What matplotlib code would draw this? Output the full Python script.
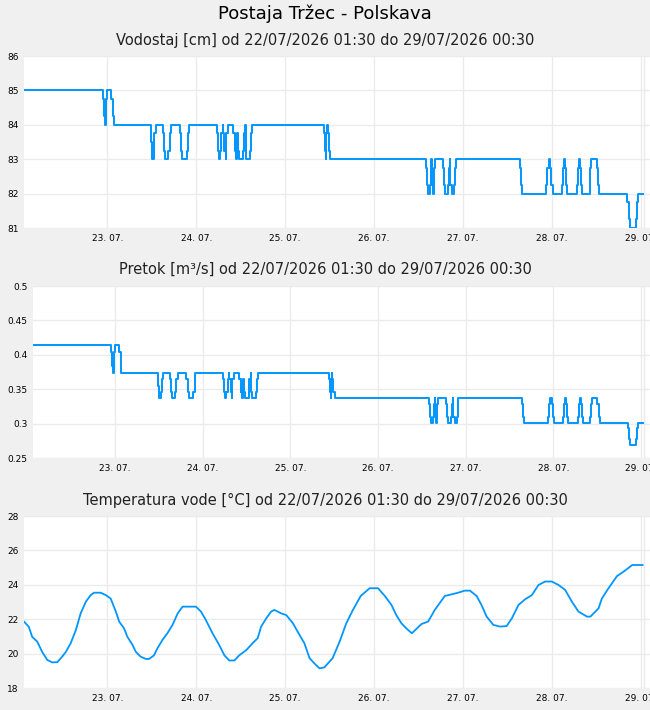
import datetime as dt
import matplotlib
matplotlib.use("Agg")
import matplotlib.pyplot as plt
import matplotlib.dates as mdates
from matplotlib.ticker import FuncFormatter, MultipleLocator

start = dt.datetime(2026, 7, 22, 1, 30)

# water level / flow: hours from start at which the value changes
step_h = [0, 21.4, 21.7, 22.0, 22.15, 22.4, 23.6, 24.0, 24.2,
          34.25, 34.5, 34.97, 35.2, 35.6, 37.4, 37.8, 38.0, 39.0, 39.3, 39.7,
          42.0, 42.4, 42.6, 43.9, 44.3, 44.5,
          52.0, 52.3, 52.55, 53.0, 53.3, 53.65, 53.8, 54.1, 54.45, 54.6, 55.1,
          56.5, 56.9, 57.1, 57.25, 57.4, 57.8, 57.95, 59.05, 59.3, 59.6, 59.8, 60.05,
          61.05, 61.3, 61.6,
          81.0, 81.3, 81.5, 81.6, 81.9, 82.0, 82.3, 82.6,
          108.5, 108.8, 109.1, 109.6, 109.9, 110.0, 110.1, 110.4, 110.6, 111.0,
          113.2, 113.4, 113.6, 114.5, 114.8, 115.0, 115.1, 115.5, 116.05, 116.3, 116.5,
          133.9, 134.15, 134.5,
          141.0, 141.3, 141.6, 142.1, 142.4, 142.7,
          145.2, 145.5, 145.7, 146.1, 146.35, 146.5,
          149.3, 149.5, 149.8, 150.2, 150.4, 150.7,
          152.7, 152.9, 153.2, 154.6, 154.9, 155.2,
          162.9, 163.3, 163.6, 165.1, 165.4, 165.7, 167.0]

vodostaj = [85, 84.75, 84.25, 84, 84.75, 85, 84.75, 84.25, 84,
            83.5, 83, 83.25, 83.75, 84, 83.75, 83.25, 83, 83.25, 83.75, 84,
            83.75, 83.25, 83, 83.25, 83.75, 84,
            83.75, 83.25, 83, 83.25, 83.75, 84, 83.75, 83.25, 83, 83.75, 84,
            83.75, 83.25, 83.5, 83, 83.75, 83.25, 83, 83.25, 83.75, 84, 83.25, 83,
            83.25, 83.75, 84,
            83.75, 83.25, 83, 83.75, 84, 83.75, 83.25, 83,
            82.75, 82.25, 82, 82.25, 82.75, 83, 82.25, 82, 82.75, 83,
            82.75, 82.25, 82, 82.25, 82.75, 83, 82.25, 82, 82.25, 82.75, 83,
            82.75, 82.25, 82,
            82.25, 82.75, 83, 82.75, 82.25, 82,
            82.25, 82.75, 83, 82.75, 82.25, 82,
            82.25, 82.75, 83, 82.75, 82.25, 82,
            82.25, 82.75, 83, 82.75, 82.25, 82,
            81.75, 81.25, 81, 81.25, 81.75, 82, 82]

pretok = [0.414, 0.404, 0.384, 0.374, 0.404, 0.414, 0.404, 0.384, 0.374,
          0.355, 0.337, 0.346, 0.365, 0.374, 0.365, 0.346, 0.337, 0.346, 0.365, 0.374,
          0.365, 0.346, 0.337, 0.346, 0.365, 0.374,
          0.365, 0.346, 0.337, 0.346, 0.365, 0.374, 0.365, 0.346, 0.337, 0.365, 0.374,
          0.365, 0.346, 0.355, 0.337, 0.365, 0.346, 0.337, 0.346, 0.365, 0.374, 0.346, 0.337,
          0.346, 0.365, 0.374,
          0.365, 0.346, 0.337, 0.365, 0.374, 0.365, 0.346, 0.337,
          0.328, 0.310, 0.301, 0.310, 0.328, 0.337, 0.310, 0.301, 0.328, 0.337,
          0.328, 0.310, 0.301, 0.310, 0.328, 0.337, 0.310, 0.301, 0.310, 0.328, 0.337,
          0.328, 0.310, 0.301,
          0.310, 0.328, 0.337, 0.328, 0.310, 0.301,
          0.310, 0.328, 0.337, 0.328, 0.310, 0.301,
          0.310, 0.328, 0.337, 0.328, 0.310, 0.301,
          0.310, 0.328, 0.337, 0.328, 0.310, 0.301,
          0.293, 0.277, 0.269, 0.277, 0.293, 0.301, 0.301]

# water temperature
temp_h = [0, 1.3, 2.2, 3.6, 4.9, 6.3, 7.6, 9.0, 10.3, 11.3, 12.6, 14.0, 15.3, 16.7,
          18.0, 18.9, 20.7, 22.1, 23.4, 24.8, 25.7, 27.0, 27.9, 29.3, 30.2, 31.5,
          32.9, 33.8, 35.1, 36.0, 37.4, 38.7, 40.1, 41.5, 42.8, 46.4, 47.8, 49.1,
          50.9, 52.7, 54.1, 55.4, 56.8, 58.1, 60.0, 61.7, 63.1, 64.0, 65.4, 66.7,
          67.6, 69.4, 70.8, 72.6, 74.4, 75.7, 77.1, 78.4, 79.8, 81.1, 83.3, 85.2,
          87.0, 88.8, 90.9, 93.3, 95.6, 97.4, 99.2, 100.5, 101.9, 103.2, 104.7,
          107.3, 109.1, 110.9, 113.6, 115.9, 117.2, 119.0, 120.4, 122.2, 123.5,
          124.9, 126.7, 128.5, 130.3, 131.7, 133.5, 135.3, 137.1, 138.9, 140.7,
          142.5, 144.3, 146.1, 147.9, 149.7, 152.0, 152.9, 155.1, 156.0, 157.8,
          160.1, 161.9, 164.2, 167.0]
temp = [21.86, 21.56, 20.98, 20.69, 20.1, 19.63, 19.49, 19.5, 19.82, 20.1, 20.6,
        21.37, 22.34, 23.02, 23.4, 23.54, 23.54, 23.4, 23.2, 22.44, 21.86, 21.47,
        20.98, 20.5, 20.1, 19.82, 19.69, 19.69, 19.9, 20.3, 20.8, 21.18, 21.67,
        22.34, 22.73, 22.73, 22.44, 21.95, 21.18, 20.5, 19.9, 19.6, 19.6, 19.9,
        20.2, 20.6, 20.9, 21.56, 22.05, 22.44, 22.54, 22.34, 22.24, 21.76, 21.08,
        20.6, 19.73, 19.43, 19.14, 19.2, 19.73, 20.69, 21.76, 22.54, 23.35, 23.8,
        23.8, 23.35, 22.83, 22.24, 21.76, 21.47, 21.18, 21.72, 21.86, 22.54, 23.35,
        23.47, 23.54, 23.66, 23.66, 23.35, 22.83, 22.15, 21.67, 21.57, 21.6, 22.05,
        22.83, 23.16, 23.4, 23.99, 24.19, 24.19, 23.99, 23.7, 23.02, 22.44, 22.15,
        22.15, 22.63, 23.2, 23.8, 24.51, 24.77, 25.15, 25.15]

title = "Postaja Tržec - Polskava"
period = "od 22/07/2026 01:30 do 29/07/2026 00:30"
panel_titles = ["Vodostaj [cm] " + period,
                "Pretok [m³/s] " + period,
                "Temperatura vode [°C] " + period]

W, H = 650, 710
blue = "#0096ff"
grid_c = "#ebebeb"


def to_dates(hours):
    return [start + dt.timedelta(hours=h) for h in hours]


fig = plt.figure(figsize=(6.5, 7.1), dpi=100, facecolor="#f0f0f0")

# axes boxes in pixels: left, top, right, bottom
boxes = [(24, 56, 650, 228), (33, 286, 650, 458), (24, 516, 650, 688)]
title_y = [40, 269, 500]
ylims = [(81, 86), (0.25, 0.5), (18, 28)]
ysteps = [1, 0.05, 2]

fig.text(0.5, 1 - 14 / H, title, ha="center", va="center", fontsize=13)

axes = []
for i, (l, t, r, b) in enumerate(boxes):
    ax = fig.add_axes([l / W, 1 - b / H, (r - l) / W, (b - t) / H])
    ax.set_facecolor("white")
    for s in ax.spines.values():
        s.set_visible(False)
    ax.set_ylim(*ylims[i])
    ax.yaxis.set_major_locator(MultipleLocator(ysteps[i]))
    ax.yaxis.set_major_formatter(FuncFormatter(lambda v, p: "%g" % round(v, 3)))
    ax.set_xlim(start, start + dt.timedelta(hours=169))
    ax.xaxis.set_major_locator(mdates.DayLocator())
    ax.xaxis.set_major_formatter(mdates.DateFormatter("%d. %m."))
    ax.tick_params(length=0, labelsize=6.5, colors="black", pad=4)
    ax.grid(True, color=grid_c, lw=1)
    ax.set_axisbelow(True)
    ax.axvline(start + dt.timedelta(hours=167.3), color=grid_c, lw=1, zorder=0)
    fig.text(0.5, 1 - title_y[i] / H, panel_titles[i], ha="center", va="center",
             fontsize=10.5, color="#222222")
    axes.append(ax)

axes[0].plot(to_dates(step_h), vodostaj, drawstyle="steps-post", color=blue, lw=1.4)
axes[1].plot(to_dates(step_h), pretok, drawstyle="steps-post", color=blue, lw=1.4)
axes[2].plot(to_dates(temp_h), temp, color=blue, lw=1.3)

fig.savefig("out.png", dpi=100, facecolor=fig.get_facecolor())
